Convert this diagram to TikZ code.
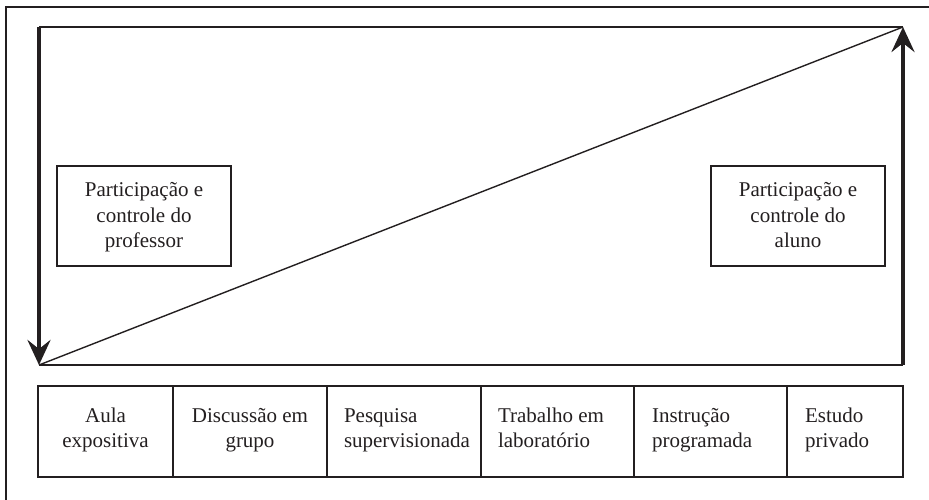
\documentclass[tikz,border=0pt]{standalone}
\usepackage{fontspec}
\setmainfont{Liberation Serif}
\usetikzlibrary{arrows.meta}
\definecolor{ink}{RGB}{35,31,32}
\newcommand{\mycell}[5]{\begin{minipage}[c][#2][t]{#1}\fontsize{21}{25}\selectfont#4\rule{0pt}{#3}#5\end{minipage}}
\newcommand{\padleft}[1]{\raggedright\leftskip=#1\relax}
\tikzset{
  thin line/.style={draw=ink, line width=1.4pt},
  big arrow/.style={draw=ink, line width=4.5pt, -{Stealth[length=25pt,width=23pt,inset=9pt]}},
  cellbox/.style={draw=ink, line width=1.4pt, inner sep=0pt, outer sep=0pt, text=ink},
}
\begin{document}
\begin{tikzpicture}[x=1pt,y=-1pt]
\useasboundingbox (0,0) rectangle (929,500);
% outer frame (only top and left edges visible)
\coordinate (fb) at (6,500);
\coordinate (fc) at (6,7);
\coordinate (fr) at (929,7);
\draw[thin line] (fb) -- (fc) -- (fr);
% inner triangle frame
\coordinate (tl) at (39,27);
\coordinate (tr) at (903,27);
\coordinate (bl) at (39,365);
\coordinate (br) at (903,365);
\draw[thin line] (tl) -- (tr);
\draw[thin line] (bl) -- (br);
\draw[thin line] (bl) -- (tr);
\draw[big arrow] (tl) -- (bl);
\draw[big arrow] (br) -- (tr);
% label boxes
\node[cellbox, fill=white] (prof) at (144,216) {\mycell{174pt}{100pt}{31pt}{\centering}{Participação e\\controle do\\professor}};
\node[cellbox, fill=white] (aluno) at (798,216) {\mycell{174pt}{100pt}{31pt}{\centering}{Participação e\\controle do\\aluno}};
% bottom row
\node[cellbox] (c1) at (105.5,431.5) {\mycell{135pt}{91pt}{36pt}{\centering}{Aula\\expositiva}};
\node[cellbox] (c2) at (250,431.5) {\mycell{154pt}{91pt}{36pt}{\centering}{Discussão em\\grupo}};
\node[cellbox] (c3) at (404,431.5) {\mycell{154pt}{91pt}{36pt}{\padleft{17pt}}{Pesquisa\\supervisionada}};
\node[cellbox] (c4) at (557.5,431.5) {\mycell{153pt}{91pt}{36pt}{\padleft{17pt}}{Trabalho em\\laboratório}};
\node[cellbox] (c5) at (710.5,431.5) {\mycell{153pt}{91pt}{36pt}{\padleft{18pt}}{Instrução\\programada}};
\node[cellbox] (c6) at (845,431.5) {\mycell{116pt}{91pt}{36pt}{\padleft{18pt}}{Estudo\\privado}};
\end{tikzpicture}
\end{document}
